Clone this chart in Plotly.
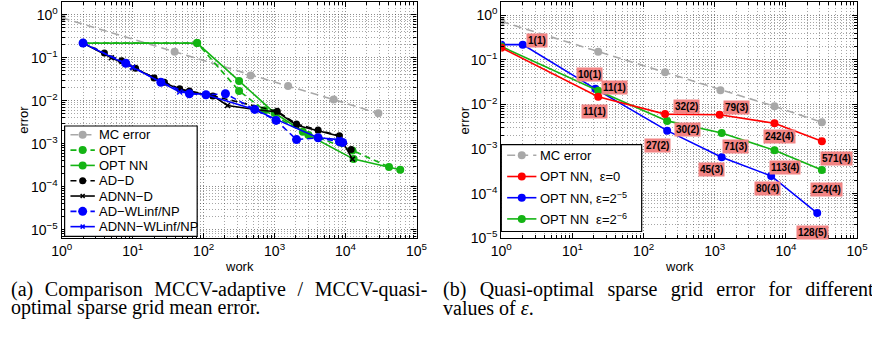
import numpy as np
import plotly.graph_objects as go

# ---------------- data: panel (a) ----------------
mc_a_work = [1, 39, 460, 1550, 6800, 29000]
mc_a_err = [0.86, 0.138, 0.039, 0.022, 0.0107, 0.0051]

opt_work = [2, 81, 316, 720, 2500, 12500, 41000]
opt_err = [0.22, 0.22, 0.017, 0.006, 0.0019, 0.0007, 0.00029]

optnn_work = [2, 81, 316, 1000, 3000, 13000, 59000]
optnn_err = [0.22, 0.22, 0.029, 0.0052, 0.0016, 0.00044, 0.00025]

add_work = [2, 4, 7, 11, 20, 28, 46, 63, 135, 1090, 2040, 4100, 8200, 12000]
add_err = [0.22, 0.13, 0.085, 0.057, 0.034, 0.027, 0.019, 0.017, 0.013, 0.0057,
           0.0029, 0.0021, 0.00154, 0.00074]

adnnd_work = [2, 5, 10, 20, 46, 135, 217, 525, 1090, 2040, 4100, 8200, 12500]
adnnd_err = [0.22, 0.1, 0.06, 0.035, 0.018, 0.013, 0.0078, 0.0063, 0.0055, 0.0027,
             0.002, 0.0015, 0.00044]

adw_work = [2, 8, 25, 63, 108, 203, 525, 1050, 2040, 4100, 8200, 9100]
adw_err = [0.22, 0.075, 0.027, 0.0146, 0.0138, 0.0146, 0.0063, 0.0035, 0.00125,
           0.00138, 0.00112, 0.00107]

adnnw_work = [2, 10, 46, 108, 525, 1050, 4100, 8200, 9100]
adnnw_err = [0.22, 0.06, 0.016, 0.0138, 0.0063, 0.0037, 0.00138, 0.00125, 0.00107]

# ---------------- data: panel (b) ----------------
mc_b_work = [1, 23, 200, 1200, 6900, 32000]
mc_b_err = [0.73, 0.152, 0.053, 0.021, 0.0091, 0.0040]

eps0_work = [1, 23, 200, 1170, 6900, 32000]
eps0_err = [0.187, 0.015, 0.0061, 0.0059, 0.0038, 0.0015]
eps0_labels = ["", "11(1)", "32(2)", "79(3)", "242(4)", "571(4)"]

eps5_work = [1, 2, 21, 214, 1250, 6200, 27500]
eps5_err = [0.22, 0.22, 0.0225, 0.0026, 0.00066, 0.00025, 0.000037]
eps5_labels = ["", "1(1)", "10(1)", "27(2)", "45(3)", "80(4)", "128(5)"]

eps6_work = [1, 23, 214, 1250, 6900, 32000]
eps6_err = [0.2, 0.0204, 0.0043, 0.0023, 0.00094, 0.00034]
eps6_labels = ["", "11(1)", "30(2)", "71(3)", "113(4)", "224(4)"]

# label offsets in pixels (dx right, dy down)
eps0_off = [(0, 0), (-4, 15), (21, -8), (17, -7), (5, 13), (15, 17)]
eps5_off = [(0, 0), (14, -4), (-6, -14), (-10, 15), (-10, 12), (-4, 13), (-5, 19)]
eps6_off = [(0, 0), (16, -3), (20, 9), (14, 13), (11, 17), (5, 19)]

legend_a = ["MC error", "OPT", "OPT NN", "AD\u2212D", "ADNN\u2212D",
            "AD\u2212WLinf/NP", "ADNN\u2212WLinf/NP"]
legend_b = ["MC error", "OPT NN,  \u03b5=0", "OPT NN, \u03b5=2<sup>\u22125</sup>",
            "OPT NN  \u03b5=2<sup>\u22126</sup>"]

# ---------------- styles ----------------
W, H = 872, 345
GRAY = "#a8a8a8"
GREEN = "#14b414"
BLUE = "#0000ff"
BLACK = "#000000"
RED = "#ff0000"
SANS = "Liberation Sans, Arial, sans-serif"
SERIF = "Liberation Serif, Times New Roman, serif"
DASH = "6px,4px"
MCDASH = "8px,5px"

styles_a = [
    dict(color=GRAY, dash=MCDASH, symbol="circle", size=8),
    dict(color=GREEN, dash=DASH, symbol="circle", size=8),
    dict(color=GREEN, dash="solid", symbol="circle", size=8),
    dict(color=BLACK, dash=DASH, symbol="circle", size=7),
    dict(color=BLACK, dash="solid", symbol="x-thin", size=5),
    dict(color=BLUE, dash=DASH, symbol="circle", size=9),
    dict(color=BLUE, dash="solid", symbol="x-thin", size=5),
]
series_a = [(mc_a_work, mc_a_err), (opt_work, opt_err), (optnn_work, optnn_err),
            (add_work, add_err), (adnnd_work, adnnd_err), (adw_work, adw_err),
            (adnnw_work, adnnw_err)]

styles_b = [
    dict(color=GRAY, dash=MCDASH, symbol="circle", size=8),
    dict(color=RED, dash="solid", symbol="circle", size=8),
    dict(color=BLUE, dash="solid", symbol="circle", size=8),
    dict(color=GREEN, dash="solid", symbol="circle", size=8),
]


def px(x, y):
    return x / W, 1 - y / H


fig = go.Figure()


def add_series(work, err, st, xa, ya, width=1.6):
    marker = dict(symbol=st["symbol"], size=st["size"], color=st["color"])
    if st["symbol"].startswith("x"):
        marker["line"] = dict(width=1.5, color=st["color"])
    fig.add_trace(go.Scatter(
        x=work, y=err, mode="lines+markers", xaxis=xa, yaxis=ya,
        line=dict(color=st["color"], dash=st["dash"], width=width),
        marker=marker, showlegend=False, hoverinfo="skip"))


for (wk, er), st in zip(series_a, styles_a):
    add_series(wk, er, st, "x", "y")

add_series(mc_b_work, mc_b_err, styles_b[0], "x2", "y2")
add_series(eps5_work, eps5_err, styles_b[2], "x2", "y2")
add_series(eps6_work, eps6_err, styles_b[3], "x2", "y2")
add_series(eps0_work, eps0_err, styles_b[1], "x2", "y2")

annotations = []
shapes = []

# point labels (panel b)
for wk, er, labs, offs in [(eps0_work, eps0_err, eps0_labels, eps0_off),
                           (eps5_work, eps5_err, eps5_labels, eps5_off),
                           (eps6_work, eps6_err, eps6_labels, eps6_off)]:
    for w_, e_, lab, (dx, dy) in zip(wk, er, labs, offs):
        if not lab:
            continue
        annotations.append(dict(
            x=np.log10(w_), y=np.log10(e_), xref="x2", yref="y2",
            text="<b>%s</b>" % lab, showarrow=False, xshift=dx, yshift=-dy,
            font=dict(family=SANS, size=10, color="black"),
            bgcolor="#f28484", borderpad=1))


# manual legends
def draw_legend(names, styles, box, y_first, dy, x_line0, x_line1, x_text, fsize):
    bx0, by0, bx1, by1 = box
    a0 = px(bx0, by0)
    a1 = px(bx1, by1)
    shapes.append(dict(type="rect", xref="paper", yref="paper",
                       x0=a0[0], x1=a1[0], y0=a1[1], y1=a0[1],
                       fillcolor="white", line=dict(color="black", width=1.2),
                       layer="above"))
    for i, (nm, st) in enumerate(zip(names, styles)):
        yy = y_first + i * dy
        p0 = px(x_line0, yy)
        p1 = px(x_line1, yy)
        shapes.append(dict(type="line", xref="paper", yref="paper",
                           x0=p0[0], x1=p1[0], y0=p0[1], y1=p1[1],
                           line=dict(color=st["color"], dash=st["dash"], width=1.6),
                           layer="above"))
        pm = px((x_line0 + x_line1) / 2, yy)
        r = st["size"] / 2
        if st["symbol"] == "circle":
            shapes.append(dict(type="circle", xref="paper", yref="paper",
                               xsizemode="pixel", ysizemode="pixel",
                               xanchor=pm[0], yanchor=pm[1],
                               x0=-r, x1=r, y0=-r, y1=r,
                               fillcolor=st["color"], line=dict(color=st["color"], width=0),
                               layer="above"))
        else:
            for s in (1, -1):
                shapes.append(dict(type="line", xref="paper", yref="paper",
                                   xsizemode="pixel", ysizemode="pixel",
                                   xanchor=pm[0], yanchor=pm[1],
                                   x0=-2, x1=2, y0=-2 * s, y1=2 * s,
                                   line=dict(color=st["color"], width=1.5),
                                   layer="above"))
        pt = px(x_text, yy)
        annotations.append(dict(x=pt[0], y=pt[1], xref="paper", yref="paper",
                                text=nm, showarrow=False, xanchor="left",
                                yanchor="middle",
                                font=dict(family=SANS, size=fsize, color="black")))


draw_legend(legend_a, styles_a, (55, 129, 191, 242), 138, 15.67, 61, 86, 88, 13)
draw_legend(legend_b, styles_b, (503, 148, 647, 237), 159, 21.7, 509, 539, 541, 13)

# axis titles
for (x_, y_, t, ang) in [(12, 123, "error", -90), (465, 123, "error", -90),
                         (234, 273, "work", 0), (686, 273, "work", 0)]:
    p = px(x_, y_)
    annotations.append(dict(x=p[0], y=p[1], xref="paper", yref="paper", text=t,
                            textangle=ang, showarrow=False, xanchor="center",
                            yanchor="middle",
                            font=dict(family=SANS, size=13, color="black")))

# captions (first lines are justified in the reference: widen the word gaps)
SPA = " \u2004"
SPB = " \u2004\u200a"
captions = [
    (-2, 296, "(a)" + SPA + "Comparison" + SPA + "MCCV-adaptive" + SPA + "/" + SPA + "MCCV-quasi-"),
    (-2, 315, "optimal sparse grid mean error."),
    (441, 296, "(b)" + SPB + "Quasi-optimal" + SPB + "sparse" + SPB + "grid" + SPB + "error" + SPB
     + "for" + SPB + "different"),
    (441, 315, "values of <i>\u03b5</i>."),
]
for (x_, y_, t) in captions:
    p = px(x_, y_)
    annotations.append(dict(x=p[0], y=p[1], xref="paper", yref="paper", text=t,
                            showarrow=False, xanchor="left", yanchor="middle",
                            font=dict(family=SERIF, size=20, color="black")))

major = [10.0 ** k for k in range(-5, 6)]
major_txt = ["10<sup>%s</sup>" % (str(k).replace("-", "\u2212")) for k in range(-5, 6)]
minor = [m * 10.0 ** k for k in range(-6, 6) for m in range(2, 10)]


def axis_style(domain, rng, anchor):
    return dict(
        type="log", domain=domain, range=rng, anchor=anchor,
        showline=True, linecolor="black", linewidth=1.2, mirror="allticks",
        ticks="inside", ticklen=5, tickcolor="black", tickwidth=1,
        tickmode="array", tickvals=major, ticktext=major_txt,
        tickfont=dict(family=SANS, size=14, color="black"),
        showgrid=True, gridcolor="rgba(0,0,0,0.45)", griddash="1px,2px", gridwidth=1,
        zeroline=False,
        minor=dict(tickmode="array", tickvals=minor, ticks="inside", ticklen=3,
                   tickcolor="black", showgrid=True,
                   gridcolor="rgba(0,0,0,0.35)", griddash="1px,2px", gridwidth=1),
    )


ydom = [1 - 244 / H, 1 - 2 / H]
fig.update_layout(
    width=W, height=H, margin=dict(l=0, r=0, t=0, b=0),
    paper_bgcolor="white", plot_bgcolor="white",
    xaxis=axis_style([52 / W, 416 / W], [0, 5], "y"),
    yaxis=axis_style(ydom, [-5.2, 0.3], "x"),
    xaxis2=axis_style([503 / W, 868 / W], [0, 5], "y2"),
    yaxis2=axis_style(ydom, [-5, 0.3], "x2"),
    annotations=annotations, shapes=shapes, showlegend=False,
)

fig.write_html("out.html", config={"displayModeBar": False},
               post_script="document.body.style.margin='0';"
                           "document.body.style.overflow='hidden';")
